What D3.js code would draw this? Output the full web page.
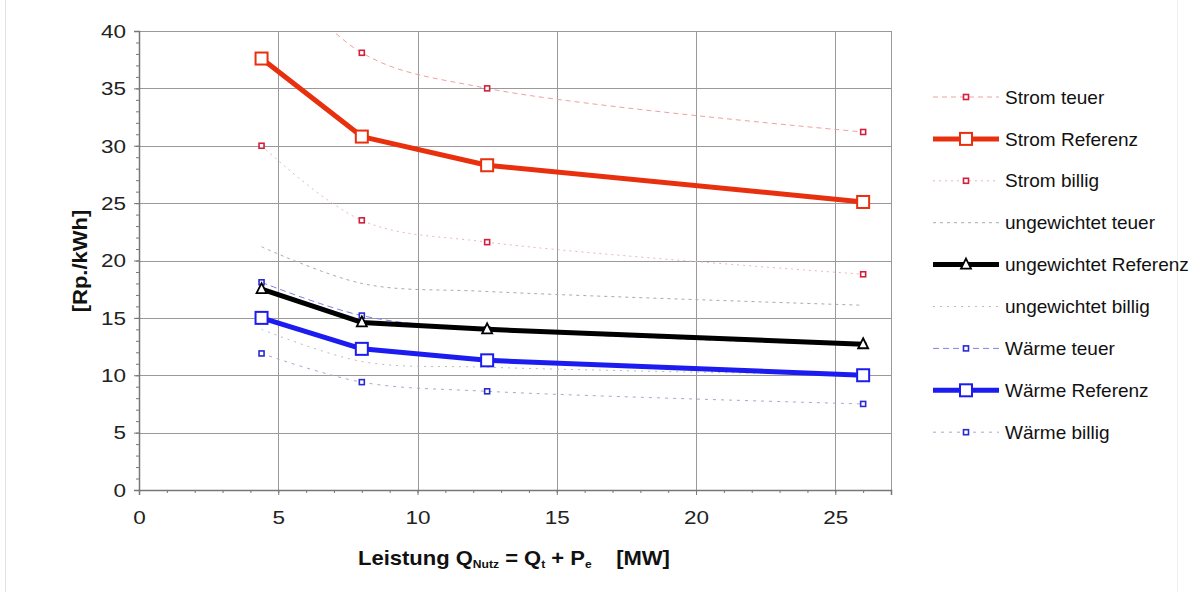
<!DOCTYPE html>
<html><head><meta charset="utf-8">
<script src="https://cdn.jsdelivr.net/npm/d3@7"></script>
<style>
html,body{margin:0;padding:0;background:#fff;}
svg{display:block;font-family:"Liberation Sans",Arial,Helvetica,sans-serif;}
</style></head>
<body>
<svg id="c" width="1197" height="592"></svg>
<script>
// ---- data ----
const xValues = [4.4, 8, 12.5, 26];
const stromTeuer = [46.6, 38.1, 35.0, 31.2];
const stromReferenz = [37.6, 30.8, 28.3, 25.1];
const stromBillig = [30.0, 23.5, 21.6, 18.8];
const ungewTeuer = [21.2, 18.0, 17.3, 16.1];
const ungewReferenz = [17.5, 14.6, 14.0, 12.7];
const ungewBillig = [14.0, 11.2, 10.7, 10.0];
const waermeTeuer = [18.1, 15.2, 14.0, 12.6];
const waermeReferenz = [15.0, 12.3, 11.3, 10.0];
const waermeBillig = [11.9, 9.4, 8.6, 7.5];
const seriesNames = ["Strom teuer","Strom Referenz","Strom billig","ungewichtet teuer","ungewichtet Referenz","ungewichtet billig","Wärme teuer","Wärme Referenz","Wärme billig"];
const xTicks = [0,5,10,15,20,25];
const yTicks = [0,5,10,15,20,25,30,35,40];
const yTitle = "[Rp./kWh]";

// ---- styles ----
const styles = [
  {values: stromTeuer, color:"#f0a0a0", width:1, dash:"5,4", marker:"sq", mcolor:"#d0203c", msize:5, curve:true},
  {values: stromReferenz, color:"#e8300e", width:5, dash:null, marker:"SQ", mcolor:"#e8300e", msize:12, curve:false},
  {values: stromBillig, color:"#e8b8b8", width:1, dash:"2,4", marker:"sq", mcolor:"#d0203c", msize:5, curve:true},
  {values: ungewTeuer, color:"#aaaaaa", width:1, dash:"3,4", marker:null, curve:true},
  {values: ungewReferenz, color:"#000000", width:5, dash:null, marker:"tri", mcolor:"#000", msize:10, curve:false},
  {values: ungewBillig, color:"#bbbbbb", width:1, dash:"2,5", marker:null, curve:true},
  {values: waermeTeuer, color:"#8080ee", width:1, dash:"6,4", marker:"sq", mcolor:"#2a2ad0", msize:5, curve:true},
  {values: waermeReferenz, color:"#1c1cf0", width:5, dash:null, marker:"SQ", mcolor:"#1c1cf0", msize:12, curve:false},
  {values: waermeBillig, color:"#a8a8c8", width:1, dash:"3,5", marker:"sq", mcolor:"#2a2ad0", msize:5, curve:true}
];

const svg = d3.select("#c");
const L = 139, T = 31, R = 891, B = 490;
const x = d3.scaleLinear().domain([0,27]).range([L,R]);
const y = d3.scaleLinear().domain([0,40]).range([B,T]);

// frame lines of the picture
svg.append("line").attr("x1",5.5).attr("x2",5.5).attr("y1",0).attr("y2",592).attr("stroke","#e2e2e2");
svg.append("line").attr("x1",1177.5).attr("x2",1177.5).attr("y1",0).attr("y2",592).attr("stroke","#f0f0f0");

// grid
const g = svg.append("g");
g.selectAll(".vg").data(xTicks.filter(d=>d>0)).join("line")
  .attr("x1",d=>Math.round(x(d))+0.5).attr("x2",d=>Math.round(x(d))+0.5)
  .attr("y1",T).attr("y2",B).attr("stroke","#999").attr("stroke-width",1);
g.selectAll(".hg").data(yTicks.filter(d=>d>0)).join("line")
  .attr("y1",d=>Math.round(y(d))+0.5).attr("y2",d=>Math.round(y(d))+0.5)
  .attr("x1",L).attr("x2",R).attr("stroke","#999").attr("stroke-width",1);
g.append("line").attr("x1",R+0.5).attr("x2",R+0.5).attr("y1",T).attr("y2",B).attr("stroke","#999");

// axes
const xAxis = d3.axisBottom(x).tickValues(xTicks).tickSize(5).tickPadding(16).tickFormat(d3.format("d"));
const xMinor = d3.axisBottom(x).tickValues(d3.range(0,28,1)).tickSize(3).tickFormat("");
const yAxis = d3.axisLeft(y).tickValues(yTicks).tickSize(5).tickPadding(8).tickFormat(d3.format("d"));
const yMinor = d3.axisLeft(y).tickValues(d3.range(0,41,1)).tickSize(3).tickFormat("");

function styleAxis(sel){
  sel.select(".domain").attr("stroke","#777").attr("stroke-width",1.5);
  sel.selectAll(".tick line").attr("stroke","#777");
  sel.selectAll("text").attr("font-size",18).attr("fill","#222").attr("font-family","Liberation Sans, Arial, sans-serif");
}
const gxm = svg.append("g").attr("transform",`translate(0,${B})`).call(xMinor); styleAxis(gxm); gxm.select(".domain").remove();
const gx = svg.append("g").attr("transform",`translate(0,${B})`).call(xAxis); styleAxis(gx);
const gym = svg.append("g").attr("transform",`translate(${L},0)`).call(yMinor); styleAxis(gym); gym.select(".domain").remove();
const gy = svg.append("g").attr("transform",`translate(${L},0)`).call(yAxis); styleAxis(gy);
gy.selectAll(".tick text").attr("dy","0.35em");
// horizontal stretch of tick labels (wide digits in the reference)
gx.selectAll(".tick text").each(function(){
  const t = d3.select(this); const ty = +t.attr("y");
  t.attr("transform",`translate(0,${ty}) scale(1.25,1) translate(0,${-ty})`);
});
gy.selectAll(".tick text").each(function(){
  const t = d3.select(this); const tx = +t.attr("x");
  t.attr("transform",`translate(${tx},0) scale(1.25,1) translate(${-tx},0)`);
});

// axis titles
svg.append("text").attr("transform",`translate(87,261) rotate(-90) scale(1.1,1)`)
  .attr("text-anchor","middle").attr("font-weight","bold").attr("font-size",20).attr("fill","#111")
  .text(yTitle);
const xt = svg.append("text").attr("transform","translate(358,565) scale(1.1,1)")
  .attr("font-weight","bold").attr("font-size",20).attr("fill","#111");
xt.append("tspan").text("Leistung Q");
xt.append("tspan").attr("font-size",11).attr("dy",3).text("Nutz");
xt.append("tspan").attr("dy",-3).text(" = Q");
xt.append("tspan").attr("font-size",11).attr("dy",3).text("t");
xt.append("tspan").attr("dy",-3).text(" + P");
xt.append("tspan").attr("font-size",11).attr("dy",3).text("e");
xt.append("tspan").attr("dy",-3).text("\u00a0\u00a0\u00a0\u00a0[MW]");

// clip
svg.append("clipPath").attr("id","clip").append("rect").attr("x",L).attr("y",T).attr("width",R-L).attr("height",B-T);
const plot = svg.append("g").attr("clip-path","url(#clip)");

function drawMarker(sel, s, cx, cy){
  if(s.marker==="sq"){
    sel.append("rect").attr("x",cx-s.msize/2).attr("y",cy-s.msize/2).attr("width",s.msize).attr("height",s.msize)
      .attr("fill","#fff").attr("stroke",s.mcolor).attr("stroke-width",1.6);
  } else if(s.marker==="SQ"){
    sel.append("rect").attr("x",cx-s.msize/2).attr("y",cy-s.msize/2).attr("width",s.msize).attr("height",s.msize)
      .attr("fill","#fff").attr("stroke",s.mcolor).attr("stroke-width",2);
  } else if(s.marker==="tri"){
    const h=s.msize;
    sel.append("path").attr("d",`M${cx},${cy-h/2-1}L${cx+h/2},${cy+h/2-1}L${cx-h/2},${cy+h/2-1}Z`)
      .attr("fill","#fff").attr("stroke",s.mcolor).attr("stroke-width",1.8);
  }
}

const drawOrder = [3,5,8,6,2,0,4,7,1];
drawOrder.forEach(i=>{
  const s = styles[i];
  const pts = xValues.map((xv,j)=>[xv,s.values[j]]);
  const line = d3.line().x(d=>x(d[0])).y(d=>y(d[1])).curve(s.curve?d3.curveCatmullRom:d3.curveLinear);
  const p = plot.append("path").attr("d",line(pts)).attr("fill","none")
    .attr("stroke",s.color).attr("stroke-width",s.width).attr("stroke-linejoin","round");
  if(s.dash) p.attr("stroke-dasharray",s.dash);
  if(s.marker){
    pts.forEach(d=>drawMarker(plot,s,x(d[0]),y(d[1])));
  }
});

// legend
const lg = svg.append("g");
seriesNames.forEach((name,i)=>{
  const s = styles[i];
  const cy = 97 + i*41.9;
  const ln = lg.append("line").attr("x1",933).attr("x2",999).attr("y1",cy).attr("y2",cy)
    .attr("stroke",s.color).attr("stroke-width",s.width);
  if(s.dash) ln.attr("stroke-dasharray",s.dash);
  if(s.marker) drawMarker(lg,s,966,cy);
  lg.append("text").attr("x",1005).attr("y",cy).attr("dy","0.35em").attr("font-size",19).attr("fill","#111").text(name);
});
</script>
</body></html>
